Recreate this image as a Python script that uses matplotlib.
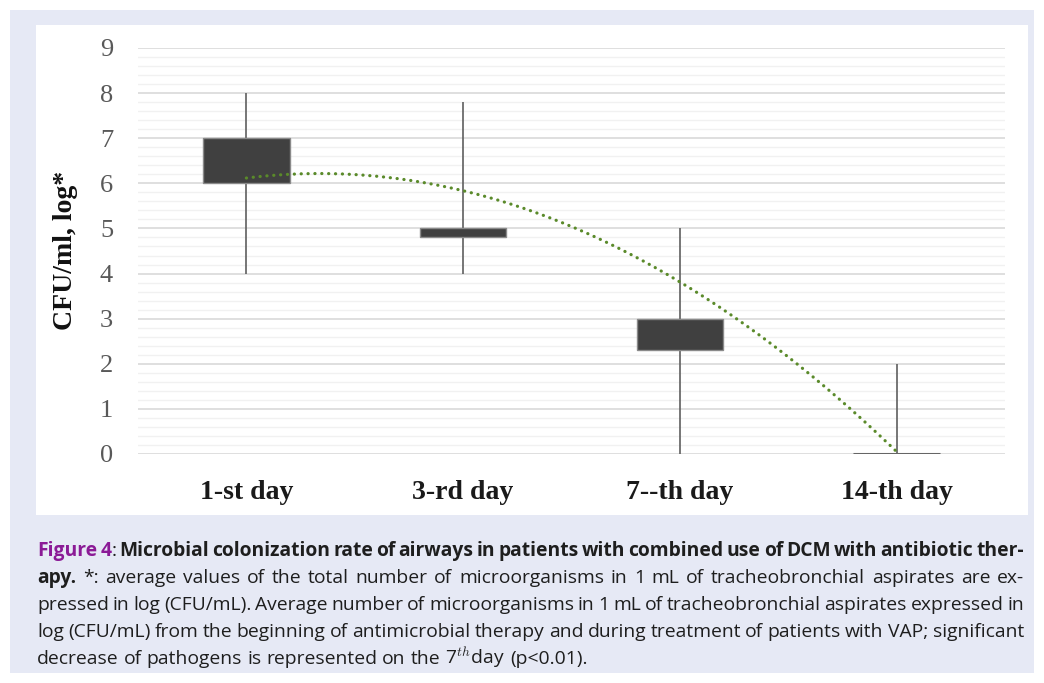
import matplotlib
matplotlib.use("Agg")
import matplotlib.pyplot as plt
import numpy as np
from matplotlib.patches import Rectangle
from matplotlib.ticker import MultipleLocator

# ---------------- data ----------------
categories = ["1-st day", "3-rd day", "7--th day", "14-th day"]
whisker_low = [4.0, 4.0, 0.0, 0.0]
whisker_high = [8.0, 7.8, 5.0, 2.0]
box_low = [6.0, 4.8, 2.3, 0.0]
box_high = [7.0, 5.0, 3.0, 0.0]
trend_values = [6.12, 5.83, 3.82, 0.05]   # polynomial (order 2) trendline readings
y_label = "CFU/ml, log*"

caption_lines = [
    [("Figure 4", "purple"), (":", "reg"),
     (" Microbial colonization rate of airways in patients with combined use of DCM with antibiotic ther-", "bold")],
    [("apy.", "bold"),
     (" *: average values of the total number of microorganisms in 1 mL of tracheobronchial aspirates are ex-", "reg")],
    [("pressed in log (CFU/mL). Average number of microorganisms in 1 mL of tracheobronchial aspirates expressed in", "reg")],
    [("log (CFU/mL) from the beginning of antimicrobial therapy and during treatment of patients with VAP; significant", "reg")],
    [(r"decrease of pathogens is represented on the 7$^{th}$day (p<0.01).", "reg")],
]
caption_justify = [True, True, True, True, False]

# ---------------- figure ----------------
W, H = 1044, 683
plt.rcParams["font.family"] = ["Liberation Serif", "DejaVu Serif"]
plt.rcParams["mathtext.fontset"] = "cm"

fig = plt.figure(figsize=(W / 100, H / 100), dpi=100)
fig.patch.set_facecolor("white")


def fx(px):
    return px / W


def fy(py):
    return 1 - py / H


def rect(x0, y0, x1, y1, color, z):
    fig.add_artist(Rectangle((fx(x0), fy(y1)), fx(x1) - fx(x0), fy(y0) - fy(y1),
                             transform=fig.transFigure, facecolor=color,
                             edgecolor="none", zorder=z))


rect(10, 10, 1034, 673, "#E6E9F5", -3)
rect(36, 25, 1028, 515, "white", -2)

ax = fig.add_axes([fx(138), fy(454), fx(1005) - fx(138), fy(48) - fy(454)])
ax.set_facecolor("none")
idx = np.arange(len(categories))
ax.set_xlim(-0.5, len(categories) - 0.5)
ax.set_ylim(0, 9)
ax.yaxis.set_major_locator(MultipleLocator(1))
ax.yaxis.set_minor_locator(MultipleLocator(0.2))
ax.grid(which="major", axis="y", color="#D9D9D9", lw=1.2, zorder=0)
ax.grid(which="minor", axis="y", color="#F1F1F1", lw=1.0, zorder=0)
ax.set_axisbelow(True)
for s in ax.spines.values():
    s.set_visible(False)

ax.tick_params(axis="y", which="both", length=0, pad=18, labelsize=19, labelcolor="#595959")
ax.tick_params(axis="x", which="both", length=0, pad=19)
ax.set_xticks(idx)
ax.set_xticklabels(categories, fontweight="bold", fontsize=20, color="#1a1a1a")

# whiskers
ax.vlines(idx, whisker_low, whisker_high, color="#5f5f5f", lw=1.2, zorder=2)
# boxes
heights = np.array(box_high) - np.array(box_low)
ax.bar(idx, heights, bottom=box_low, width=0.4, color="#404040",
       edgecolor="#8a8a8a", lw=1.0, zorder=3)
# zero-height box drawn as line
for i, h in enumerate(heights):
    if h == 0:
        ax.hlines(box_low[i], idx[i] - 0.2, idx[i] + 0.2, color="#666666", lw=2.2, zorder=3)

# polynomial trendline
coef = np.polyfit(idx, trend_values, 2)
xs = np.linspace(idx[0], idx[-1], 300)
ax.plot(xs, np.polyval(coef, xs), color="#5a8a2a", lw=2.3,
        linestyle=(0, (0.05, 2.1)), dash_capstyle="round", zorder=4)

fig.text(fx(66), fy(250), y_label, rotation=90, ha="center", va="center",
         fontsize=20, fontweight="bold", color="#111111")

# ---------------- caption (justified) ----------------
cap_font = "Open Sans"
renderer = fig.canvas.get_renderer()


def make_styles(fs):
    return {
        "purple": dict(fontfamily=cap_font, fontweight="bold", fontsize=fs, color="#8B1A96"),
        "bold": dict(fontfamily=cap_font, fontweight="bold", fontsize=fs, color="#1e1e1e"),
        "reg": dict(fontfamily=cap_font, fontweight="normal", fontsize=fs, color="#1e1e1e"),
    }


def measure(t, st, styles):
    tx = fig.text(0, 0, t, **styles[st])
    w = tx.get_window_extent(renderer).width
    tx.remove()
    return w


# choose a font size so the (unjustified) last line has the reference's width
target_last = 546.0
base_fs = 12.0
st0 = make_styles(base_fs)
w0 = measure(caption_lines[-1][0][0], "reg", st0)
fs = base_fs * target_last / w0
styles = make_styles(fs)

space_w = measure("a a", "reg", styles) - measure("aa", "reg", styles)
left_px, right_px = 37, 1024
baselines = [556, 583, 610, 637, 664]

for line, just, base in zip(caption_lines, caption_justify, baselines):
    words = []
    cur = None
    for text, st in line:
        parts = text.split(" ")
        for i, p in enumerate(parts):
            if i > 0:
                cur = None
            if p == "":
                continue
            if cur is None:
                cur = []
                words.append(cur)
            cur.append((p, st))
    widths = [[measure(p, st, styles) for p, st in w] for w in words]
    total = sum(sum(ws) for ws in widths)
    if just and len(words) > 1:
        gap = (right_px - left_px - total) / (len(words) - 1)
    else:
        gap = space_w
    x = left_px
    for w, ws in zip(words, widths):
        for (p, st), pw in zip(w, ws):
            fig.text(fx(x), fy(base), p, ha="left", va="baseline", **styles[st])
            x += pw
        x += gap

fig.savefig("out.png", dpi=100, facecolor="white")
